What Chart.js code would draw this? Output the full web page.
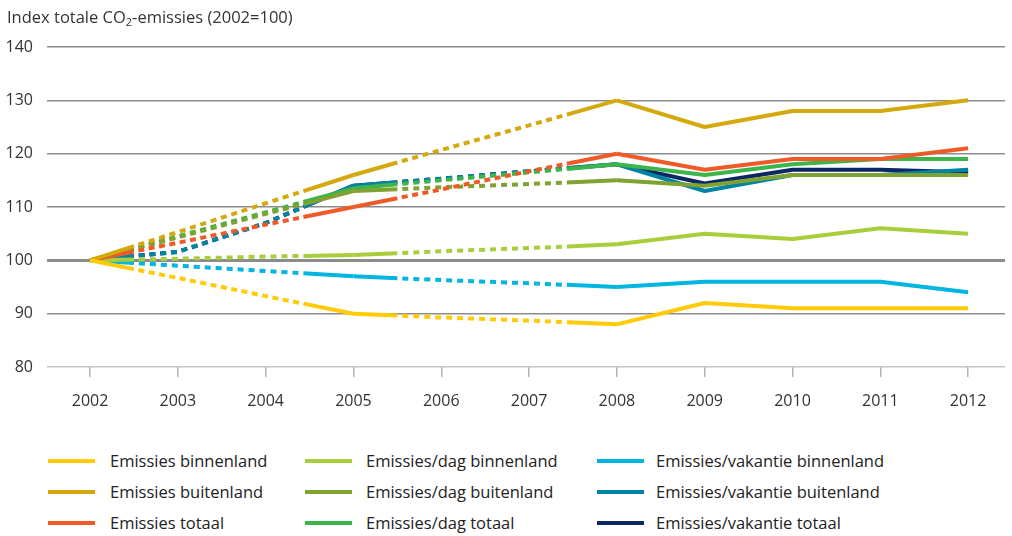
<!DOCTYPE html>
<html>
<head>
<meta charset="utf-8">
<script src="https://cdn.jsdelivr.net/npm/chart.js@4.4.0/dist/chart.umd.min.js"></script>
<style>
  body { margin: 0; background: #fff; font-family: "Open Sans", sans-serif; color: #333; }
  #wrap { position: relative; width: 1012px; height: 536px; }
  #titel { position: absolute; left: 7px; top: 5px; font-size: 16.5px; white-space: nowrap; }
  #titel sub { font-size: 11px; vertical-align: -3px; }
  #grafiek { position: absolute; left: 0; top: 0; }
  .item { position: absolute; height: 20px; line-height: 20px; font-size: 16.5px; white-space: nowrap; color: #222; }
  .item .lijn { position: absolute; left: 0; top: 8px; width: 47px; height: 4px; }
  .item .tekst { position: absolute; top: 0; }
</style>
</head>
<body>
<div id="wrap">
  <canvas id="grafiek" width="1012" height="425"></canvas>
  <div id="titel">Index totale CO<sub>2</sub>-emissies (2002=100)</div>
  <div id="legenda"></div>
</div>
<script>
var jaren = [2002, 2003, 2004, 2005, 2006, 2007, 2008, 2009, 2010, 2011, 2012];
var yTicks = [80, 90, 100, 110, 120, 130, 140];

var emissiesBinnenland        = [100, 96.7, 93.3, 90, 89.3, 88.7, 88, 92, 91, 91, 91];
var emissiesBuitenland        = [100, 105.3, 110.7, 116, 120.7, 125.3, 130, 125, 128, 128, 130];
var emissiesTotaal            = [100, 103.3, 106.7, 110, 113.3, 116.7, 120, 117, 119, 119, 121];
var dagBinnenland             = [100, 100.3, 100.7, 101, 101.7, 102.3, 103, 105, 104, 106, 105];
var dagBuitenland             = [100, 104.3, 108.7, 113, 113.7, 114.3, 115, 114, 116, 116, 116];
var dagTotaal                 = [100, 104.5, 109, 113.5, 115, 116.5, 118, 116, 118, 119, 119];
var vakantieBinnenland        = [100, 99, 98, 97, 96.3, 95.7, 95, 96, 96, 96, 94];
var vakantieBuitenland        = [100, 101.6, 107, 114, 115.3, 116.7, 118, 113, 116, 116, 117];
var vakantieTotaal            = [100, 101.6, 107, 114, 115.3, 116.7, 118, 114.4, 117, 117, 116.5];

var reeksen = [
  { naam: 'Emissies binnenland', data: emissiesBinnenland, kleur: '#FFCB05' },
  { naam: 'Emissies buitenland', data: emissiesBuitenland, kleur: '#D3A90E' },
  { naam: 'Emissies totaal', data: emissiesTotaal, kleur: '#F05A28' },
  { naam: 'Emissies/dag binnenland', data: dagBinnenland, kleur: '#A9CE3C' },
  { naam: 'Emissies/dag buitenland', data: dagBuitenland, kleur: '#80A230' },
  { naam: 'Emissies/dag totaal', data: dagTotaal, kleur: '#3DB54A' },
  { naam: 'Emissies/vakantie binnenland', data: vakantieBinnenland, kleur: '#00B5E0' },
  { naam: 'Emissies/vakantie buitenland', data: vakantieBuitenland, kleur: '#0083A5' },
  { naam: 'Emissies/vakantie totaal', data: vakantieTotaal, kleur: '#0B2764' }
];

// jaren zonder meting worden gestippeld: 2002.5-2004.43 en 2005.5-2007.43
var STREEP = 6, TUSSEN = 4.8;
function streepPatroon(ctx) {
  var i = ctx.p0DataIndex;
  var start = i <= 2 ? 0 : (i <= 5 ? 3 : -1);
  if (start < 0) return [];
  var pts = ctx.chart.getDatasetMeta(ctx.datasetIndex).data;
  var l = [];
  for (var k = start; k < start + 3; k++) {
    l.push(Math.hypot(pts[k + 1].x - pts[k].x, pts[k + 1].y - pts[k].y));
  }
  var s1 = l[0] * 0.5, s2 = l[2] * 0.57;
  var midden = l[0] + l[1] + l[2] - s1 - s2;
  var n = Math.max(1, Math.round((midden - TUSSEN) / (STREEP + TUSSEN)));
  var g = (midden - n * STREEP) / (n + 1);
  var p = [s1];
  for (var m = 0; m < n; m++) p.push(g, STREEP);
  p.push(g, s2, 3000);
  return p;
}

var datasets = reeksen.map(function (r) {
  return {
    label: r.naam,
    data: jaren.map(function (j, i) { return { x: j, y: r.data[i] }; }),
    borderColor: r.kleur,
    backgroundColor: r.kleur,
    borderWidth: 4,
    borderCapStyle: 'butt',
    borderJoinStyle: 'round',
    pointRadius: 0,
    tension: 0,
    fill: false,
    segment: { borderDash: streepPatroon }
  };
});

var ctx = document.getElementById('grafiek').getContext('2d');
var grafiek = new Chart(ctx, {
  type: 'line',
  data: { datasets: datasets },
  options: {
    responsive: false,
    animation: false,
    devicePixelRatio: 1,
    layout: { padding: { left: 0, right: 7, top: 47, bottom: 0 } },
    plugins: { legend: { display: false }, tooltip: { enabled: false } },
    scales: {
      x: {
        type: 'linear',
        min: 2001.51,
        max: 2012.42,
        afterBuildTicks: function (scale) {
          scale.ticks = jaren.map(function (j) { return { value: j }; });
        },
        afterFit: function (scale) { scale.height = 58; },
        border: { display: false },
        grid: { drawOnChartArea: false, drawTicks: true, tickLength: 10, color: '#b4b4b4', lineWidth: 1.5 },
        ticks: {
          padding: 15,
          color: '#333',
          font: { family: 'Open Sans', size: 16 },
          callback: function (v) { return String(v); }
        }
      },
      y: {
        min: 80,
        max: 140,
        afterBuildTicks: function (scale) {
          scale.ticks = yTicks.map(function (v) { return { value: v }; });
        },
        afterFit: function (scale) { scale.width = 47; },
        border: { display: false },
        grid: {
          drawTicks: false,
          color: function (c) { return c.tick.value === 80 ? '#c4c4c4' : '#8c8c8c'; },
          lineWidth: function (c) { return c.tick.value === 100 ? 3 : 1.5; }
        },
        ticks: {
          padding: 14,
          color: '#333',
          font: { family: 'Open Sans', size: 16 }
        }
      }
    }
  }
});

// legenda in drie kolommen
var kolomLijn = [48, 305, 597];
var kolomTekst = [110, 366, 656];
var legenda = document.getElementById('legenda');
reeksen.forEach(function (r, i) {
  var kol = Math.floor(i / 3), rij = i % 3;
  var item = document.createElement('div');
  item.className = 'item';
  item.style.left = kolomLijn[kol] + 'px';
  item.style.top = (451 + rij * 31) + 'px';
  var lijn = document.createElement('span');
  lijn.className = 'lijn';
  lijn.style.background = r.kleur;
  var tekst = document.createElement('span');
  tekst.className = 'tekst';
  tekst.style.left = (kolomTekst[kol] - kolomLijn[kol]) + 'px';
  tekst.textContent = r.naam;
  item.appendChild(lijn);
  item.appendChild(tekst);
  legenda.appendChild(item);
});
</script>
</body>
</html>
